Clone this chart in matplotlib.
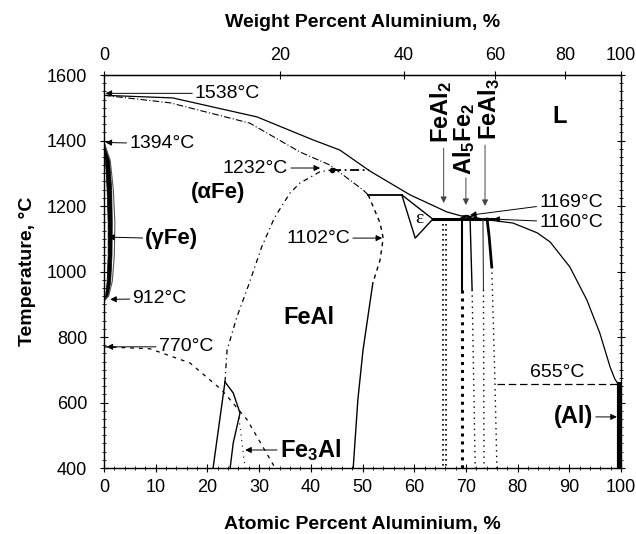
import numpy as np
import matplotlib
matplotlib.use("Agg")
import matplotlib.pyplot as plt
from matplotlib.ticker import MultipleLocator

plt.rcParams['font.family'] = ['Liberation Sans', 'DejaVu Sans']
plt.rcParams['mathtext.fontset'] = 'custom'
plt.rcParams['mathtext.rm'] = 'Liberation Sans'
plt.rcParams['mathtext.bf'] = 'Liberation Sans:bold'
plt.rcParams['mathtext.it'] = 'Liberation Sans:italic'

# ---------------- data (atomic % Al, temperature degC) ----------------
liq_x = [0, 13.3, 29.6, 40.4, 45.6, 51.5, 59.2, 66.3, 69.0, 70.3, 71.5, 73.0, 74.1,
         79.1, 83.8, 86.3, 90.1, 93.4, 95.9, 97.9, 98.8, 99.5]
liq_t = [1538, 1530, 1472, 1402, 1371, 1306, 1234, 1182, 1170, 1169, 1166, 1161, 1158,
         1148, 1118, 1090, 1014, 913, 812, 708, 672, 655]

sol_x = [0, 12.8, 28.2, 37.9, 43.7, 50.1, 51.1]
sol_t = [1538, 1515, 1453, 1365, 1325, 1249, 1234]

order_x = [23.4, 23.8, 25.7, 28.0, 30.5, 33.0, 36.0, 37.9, 41.8, 44.1]
order_t = [663, 760, 861, 960, 1075, 1165, 1240, 1270, 1305, 1310]

feal_up_x = [51.1, 53.4, 54.0, 53.4, 52.0]
feal_up_t = [1234, 1148, 1102, 1035, 965]
feal_lo_x = [52.0, 50.1, 49.1, 48.2]
feal_lo_t = [965, 760, 608, 400]

curie_x = [0, 8.9, 16.6, 22.8, 27.7, 33.1]
curie_t = [770, 764, 721, 638, 547, 400]

fe3al_l_x = [21.1, 23.4]
fe3al_l_t = [400, 663]
fe3al_r_x = [23.4, 25.0, 26.3, 26.1, 25.0, 24.4]
fe3al_r_t = [663, 629, 568, 553, 477, 400]
fe3al_d_x = [26.1, 27.3]
fe3al_d_t = [553, 400]

eps_x = [57.6, 60.2, 63.6, 57.6]
eps_t = [1234, 1102, 1160, 1234]
peri_x = [51.1, 57.6]
peri_t = [1234, 1234]
dd_x = [44.1, 51.3]
dd_t = [1310, 1310]
eut_x = [63.6, 75.3]
eut_t = [1160, 1160]

gam_t = [1394, 1340, 1250, 1150, 1050, 970, 925, 912]
gam_in = [0.0, 0.2, 0.5, 0.7, 0.7, 0.5, 0.2, 0.0]
gam_mid = [0.0, 1.0, 1.4, 1.5, 1.45, 1.2, 0.7, 0.0]
gam_out = [0.0, 1.2, 1.8, 2.1, 2.0, 1.6, 0.9, 0.0]

feal2_a = [65.6, 65.6]
feal2_b = [66.1, 66.1]
feal2_t = [1160, 400]
a52_l_x = [69.2, 69.2, 69.2]
a52_l_t = [1160, 944, 400]
a52_r_x = [70.8, 71.2, 71.8]
a52_r_t = [1165, 944, 400]
a52_top_x = [69.2, 69.6, 70.2, 70.8]
a52_top_t = [1162, 1167, 1169, 1165]
fa3_l_x = [73.3, 73.4, 73.5]
fa3_l_t = [1160, 944, 400]
fa3_r_x = [74.1, 74.5, 75.0, 75.6, 76.0]
fa3_r_t = [1160, 1106, 1014, 675, 400]
al_eut_x = [76.0, 99.5]
al_eut_t = [655, 655]
al_x = [99.7, 99.7]
al_t = [655, 400]

xticks = [0, 10, 20, 30, 40, 50, 60, 70, 80, 90, 100]
yticks = [400, 600, 800, 1000, 1200, 1400, 1600]
wt_ticks = [0, 20, 40, 60, 80, 100]

# ---------------- figure ----------------
fig = plt.figure(figsize=(6.36, 5.34), dpi=100)
ax = fig.add_axes([104 / 636, 1 - 468 / 534, 517 / 636, 393 / 534])
ax.set_xlim(0, 100)
ax.set_ylim(400, 1600)

k = 'black'
ax.plot(liq_x, liq_t, color=k, lw=0.9)
ax.plot(sol_x, sol_t, color=k, lw=0.8, ls=(0, (6, 2, 1, 2)))
ax.plot(order_x, order_t, color=k, lw=0.9, ls=(0, (4, 3, 1, 3)))
ax.plot([44.1], [1310], 'o', color=k, ms=3)
ax.plot(feal_up_x, feal_up_t, color=k, lw=1.0, ls=(0, (3, 3)))
ax.plot(feal_lo_x, feal_lo_t, color=k, lw=1.0)
ax.plot(curie_x, curie_t, color=k, lw=0.9, ls=(0, (3, 4)))
ax.plot(fe3al_l_x, fe3al_l_t, color=k, lw=1.0)
ax.plot(fe3al_r_x, fe3al_r_t, color=k, lw=1.0)
ax.plot(fe3al_d_x, fe3al_d_t, color=k, lw=0.8, ls=(0, (1, 4)))
ax.plot(eps_x, eps_t, color=k, lw=1.0)
ax.plot(peri_x, peri_t, color=k, lw=1.3)
ax.plot(dd_x, dd_t, color=k, lw=1.3, ls=(0, (5, 2, 1, 2)))
ax.plot(eut_x, eut_t, color=k, lw=2.2)

ax.fill_betweenx(gam_t, gam_in, gam_mid, color=k, lw=0.5)
ax.plot(gam_out, gam_t, color='#555555', lw=0.8)

ax.plot(feal2_a, feal2_t, color=k, lw=1.2, ls=(0, (1, 2)))
ax.plot(feal2_b, feal2_t, color=k, lw=1.2, ls=(0, (1, 2)))
ax.plot(a52_l_x[:2], a52_l_t[:2], color=k, lw=1.5)
ax.plot(a52_l_x[1:], a52_l_t[1:], color=k, lw=2.2, ls=(0, (1, 1.6)))
ax.plot(a52_r_x[:2], a52_r_t[:2], color=k, lw=1.0)
ax.plot(a52_r_x[1:], a52_r_t[1:], color=k, lw=1.0, ls=(0, (1, 3)))
ax.plot(a52_top_x, a52_top_t, color=k, lw=2.0)
ax.plot(fa3_l_x[:2], fa3_l_t[:2], color='#333333', lw=0.8)
ax.plot(fa3_l_x[1:], fa3_l_t[1:], color=k, lw=1.0, ls=(0, (1, 3)))
ax.plot(fa3_r_x[:3], fa3_r_t[:3], color=k, lw=2.0)
ax.plot(fa3_r_x[2:], fa3_r_t[2:], color=k, lw=1.0, ls=(0, (1, 3)))
ax.plot(al_eut_x, al_eut_t, color=k, lw=0.9, ls=(0, (6, 3)))
ax.plot(al_x, al_t, color=k, lw=3.0)

# ---------------- labels ----------------
ap = dict(arrowstyle='-|>', color=k, lw=0.7, mutation_scale=9, shrinkA=0, shrinkB=0)
fs_t = 14


def ann(txt, tip, pos, ha='left', **kw):
    ax.annotate(txt, xy=tip, xytext=pos, ha=ha, va='center', fontsize=fs_t,
                arrowprops=ap, **kw)


ann('1538°C', (0.3, 1544), (17.6, 1544))
ann('1394°C', (0.3, 1394), (4.9, 1390))
ann('1232°C', (41.8, 1316), (23.0, 1316))
ann('1102°C', (53.8, 1102), (47.6, 1102), ha='right')
ann('912°C', (1.2, 915), (5.5, 917))
ann('770°C', (0.5, 770), (10.6, 770))
ann('1169°C', (70.8, 1172), (84.2, 1212))
ann('1160°C', (75.3, 1160), (84.2, 1150))
ax.text(82.4, 693, '655°C', fontsize=fs_t, va='center', ha='left')

ax.text(22.0, 1240, '(αFe)', fontsize=16, fontweight='bold', ha='center', va='center')
ax.annotate('(γFe)', xy=(0.8, 1105), xytext=(8.0, 1100), fontsize=16, fontweight='bold',
            ha='left', va='center', arrowprops=ap)
ax.text(39.7, 861, 'FeAl', fontsize=17, fontweight='bold', ha='center', va='center')
ax.annotate(r'Fe$_\mathbf{3}$Al', xy=(27.3, 455), xytext=(34.0, 455), fontsize=17,
            fontweight='bold', ha='left', va='center', arrowprops=ap)
ax.text(88.2, 1472, 'L', fontsize=17, fontweight='bold', ha='center', va='center')
ax.annotate('(Al)', xy=(99.2, 556), xytext=(94.6, 556), fontsize=17, fontweight='bold',
            ha='right', va='center', arrowprops=ap)
ax.text(61.0, 1162, 'ε', fontsize=14, family='Liberation Serif', ha='center', va='center')

ax.text(65.2, 1487, r'FeAl$_\mathbf{2}$', fontsize=17, fontweight='bold', rotation=90,
        ha='center', va='center')
ax.text(69.6, 1405, r'Al$_\mathbf{5}$Fe$_\mathbf{2}$', fontsize=17, fontweight='bold',
        rotation=90, ha='center', va='center')
ax.text(74.4, 1497, r'FeAl$_\mathbf{3}$', fontsize=17, fontweight='bold', rotation=90,
        ha='center', va='center')
ap2 = dict(arrowstyle='-|>', color='#444444', lw=0.7, mutation_scale=9, shrinkA=0, shrinkB=0)
ax.annotate('', xy=(65.7, 1209), xytext=(65.7, 1377), arrowprops=ap2)
ax.annotate('', xy=(70.0, 1203), xytext=(70.0, 1286), arrowprops=ap2)
ax.annotate('', xy=(73.7, 1200), xytext=(73.7, 1386), arrowprops=ap2)

# ---------------- axes styling ----------------
ax.set_xticks(xticks)
ax.set_yticks(yticks)
ax.xaxis.set_minor_locator(MultipleLocator(2))
ax.yaxis.set_minor_locator(MultipleLocator(25))
ax.tick_params(which='major', direction='inout', length=6, width=0.8, labelsize=13)
ax.tick_params(axis='x', which='major', pad=5)
ax.tick_params(axis='y', which='major', pad=9)
ax.tick_params(which='minor', direction='inout', length=3, width=0.6)
ax.tick_params(axis='y', right=True, which='both')
for s in ax.spines.values():
    s.set_linestyle((0, (3, 1)))
    s.set_linewidth(1.0)

ax.set_xlabel('Atomic Percent Aluminium, %', fontsize=14, fontweight='bold', labelpad=14)
ax.set_ylabel('Temperature, °C', fontsize=14, fontweight='bold', labelpad=8)


def at2wt(a):
    a = np.asarray(a, dtype=float)
    m = 26.98 * a
    return 100 * m / (m + 55.845 * (100 - a) + 1e-12)


def wt2at(w):
    w = np.asarray(w, dtype=float)
    m = w / 26.98
    return 100 * m / (m + (100 - w) / 55.845 + 1e-12)


sec = ax.secondary_xaxis('top', functions=(at2wt, wt2at))
sec.set_xticks(wt_ticks)
sec.tick_params(direction='inout', length=6, width=0.8, labelsize=13, pad=5)
sec.set_xlabel('Weight Percent Aluminium, %', fontsize=14, fontweight='bold', labelpad=14)
sec.spines['top'].set_linestyle((0, (3, 1)))

fig.savefig('out.png', dpi=100)
